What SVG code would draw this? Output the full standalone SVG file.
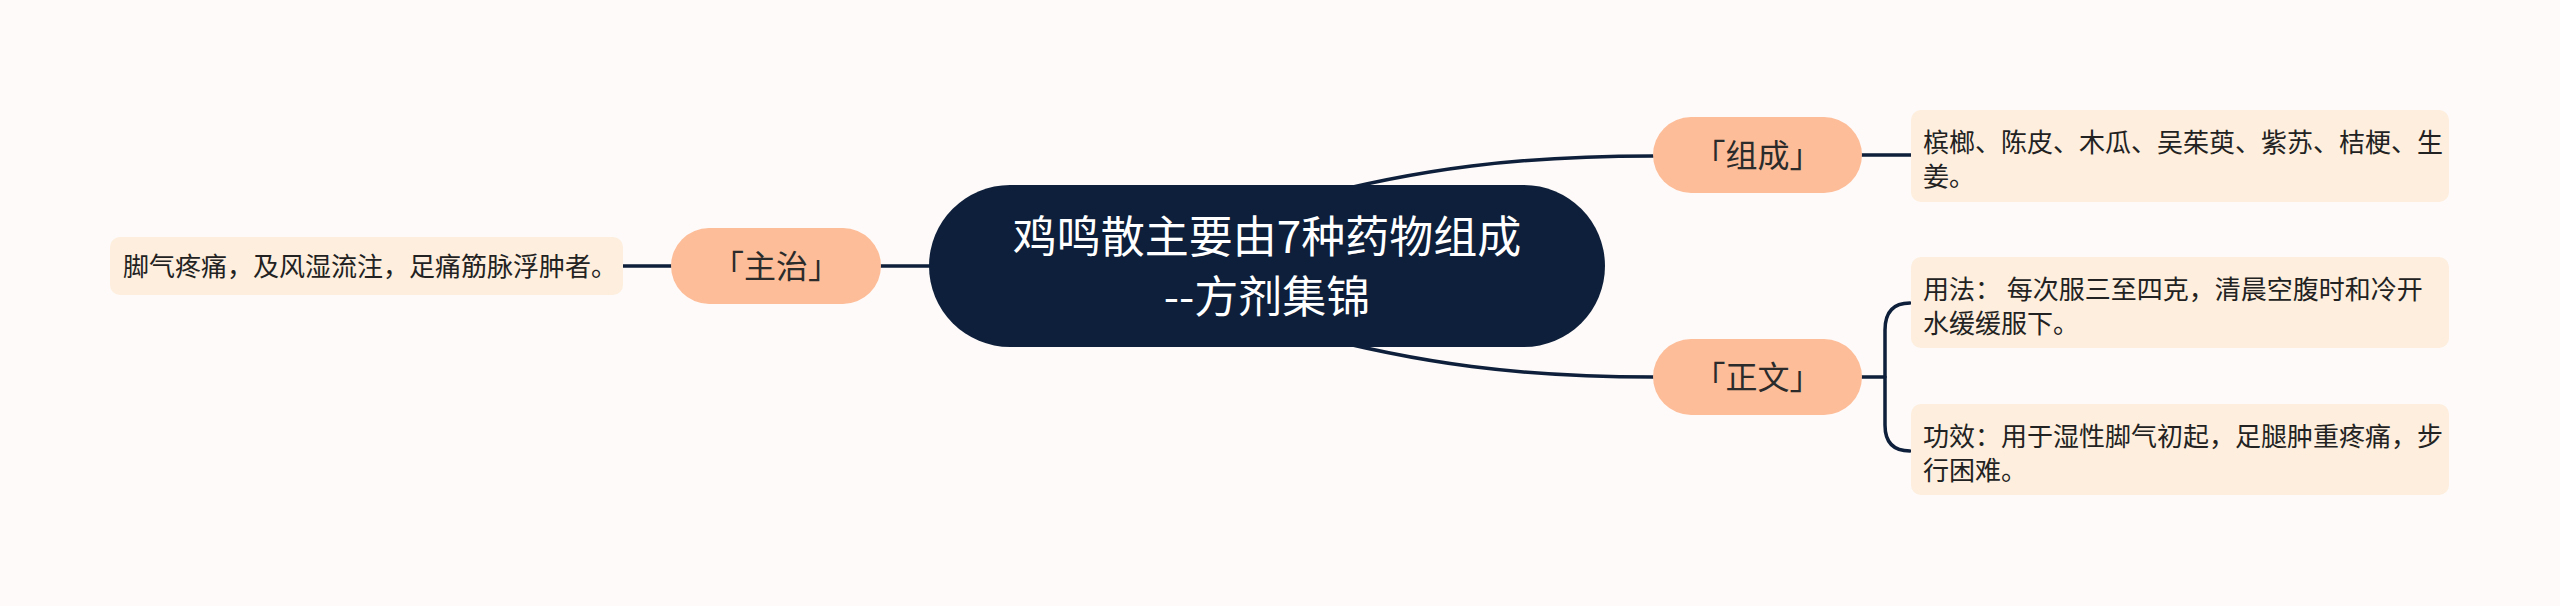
<svg xmlns="http://www.w3.org/2000/svg" width="2560" height="606" viewBox="0 0 2560 606">
<style>
.line{fill:none;stroke:#0d1f3a;stroke-width:3.5;stroke-linecap:round}
.t{font-family:"Noto Sans CJK SC","Noto Sans",sans-serif}
.root{fill:#0d1f3a}
.roott{fill:#ffffff;font-size:44px;text-anchor:middle}
.mid{fill:#fdbd99}
.midt{fill:#2b2b2b;font-size:32px;text-anchor:middle}
.leaf{fill:#fdeedd}
.leaft{fill:#222222;font-size:26px}
</style>
<rect x="0" y="0" width="2560" height="606" fill="#fefaf9"/>
<g id="connectors">
<path class="line" d="M1300 200 C1420 168 1520 156 1653 156"/>
<path class="line" d="M1300 332 C1420 364 1520 377 1653 377"/>
<line class="line" x1="881" y1="266" x2="929" y2="266"/>
<line class="line" x1="623" y1="266" x2="671" y2="266"/>
<line class="line" x1="1862" y1="155" x2="1911" y2="155"/>
<line class="line" x1="1862" y1="377" x2="1885" y2="377"/>
<path class="line" d="M1910 303 Q1885 303 1885 330 L1885 425 Q1885 451 1910 451"/>
</g>
<g id="root">
<rect class="root" x="929" y="185" width="676" height="162" rx="81"/>
<text class="t roott" x="1267" y="253">鸡鸣散主要由7种药物组成</text>
<text class="t roott" x="1267" y="313">--方剂集锦</text>
</g>
<g id="zhuzhi">
<rect class="mid" x="671" y="228" width="210" height="76" rx="38"/>
<text class="t midt" x="776" y="278">「主治」</text>
</g>
<g id="zhuzhi-leaf">
<rect class="leaf" x="110" y="237" width="513" height="58" rx="10"/>
<text class="t leaft" x="123" y="276">脚气疼痛，及风湿流注，足痛筋脉浮肿者。</text>
</g>
<g id="zucheng">
<rect class="mid" x="1653" y="117" width="209" height="76" rx="38"/>
<text class="t midt" x="1757.5" y="167">「组成」</text>
</g>
<g id="zucheng-leaf">
<rect class="leaf" x="1911" y="110" width="538" height="92" rx="10"/>
<text class="t leaft" x="1923" y="152">槟榔、陈皮、木瓜、吴茱萸、紫苏、桔梗、生</text>
<text class="t leaft" x="1923" y="186">姜。</text>
</g>
<g id="zhengwen">
<rect class="mid" x="1653" y="339" width="209" height="76" rx="38"/>
<text class="t midt" x="1757.5" y="389">「正文」</text>
</g>
<g id="yongfa-leaf">
<rect class="leaf" x="1911" y="257" width="538" height="91" rx="10"/>
<text class="t leaft" x="1923" y="299">用法： 每次服三至四克，清晨空腹时和冷开</text>
<text class="t leaft" x="1923" y="333">水缓缓服下。</text>
</g>
<g id="gongxiao-leaf">
<rect class="leaf" x="1911" y="404" width="538" height="91" rx="10"/>
<text class="t leaft" x="1923" y="446">功效：用于湿性脚气初起，足腿肿重疼痛，步</text>
<text class="t leaft" x="1923" y="480">行困难。</text>
</g>
</svg>
